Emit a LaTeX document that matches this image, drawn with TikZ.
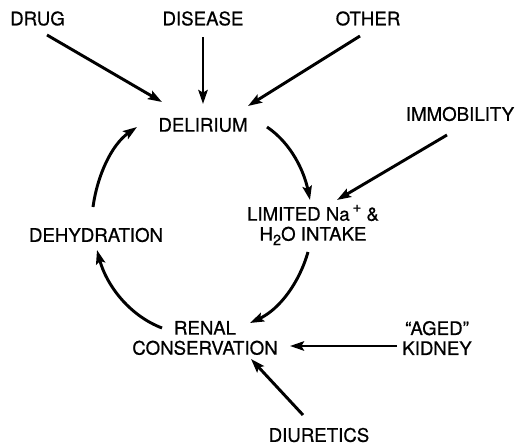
\documentclass[tikz,border=0pt]{standalone}
\usepackage{fontspec}
\setmainfont{TeX Gyre Heros}[Ligatures=TeX]
\newfontfamily\heavyfont{TeX Gyre Heros}[FakeBold=0.6,Ligatures=TeX]
\usetikzlibrary{arrows.meta}
\begin{document}
\begin{tikzpicture}[x=0.75pt,y=-0.75pt,
  label/.style={inner sep=0pt,align=center,font=\heavyfont\fontsize{14}{15}\selectfont},
  link/.style={line width=2.2pt,-{Stealth[length=10.5pt,width=7pt,inset=2pt]}}]
\useasboundingbox (0,0) rectangle (519,446);
% factors and states
\node[label] (drug) at (37.5,18.5) {DRUG};
\node[label] (disease) at (203,18.5) {DISEASE};
\node[label] (other) at (368,18.5) {OTHER};
\node[label] (delirium) at (203,125) {DELIRIUM};
\node[label] (immob) at (460,114) {IMMOBILITY};
\node[label] (limited) at (313,225) {LIMITED Na\,\raisebox{0.9ex}{\fontsize{11}{11}\selectfont +} \&\\H\raisebox{-0.45ex}{\fontsize{11}{11}\selectfont 2}O INTAKE};
\node[label] (dehyd) at (96,235) {DEHYDRATION};
\node[label] (renal) at (205,338) {RENAL\\CONSERVATION};
\node[label] (aged) at (437,338) {“AGED”\\KIDNEY};
\node[label] (diur) at (319,435) {DIURETICS};
% straight inputs
\draw[link] ([shift={(9.5,16.5)}]drug.center) -- ([shift={(-41,-23)}]delirium.center);
\draw[link] ([shift={(0,18.5)}]disease.center) -- ([shift={(0,-21)}]delirium.center);
\draw[link] ([shift={(-8,17.5)}]other.center) -- ([shift={(45,-19)}]delirium.center);
\draw[link] ([shift={(-13,21)}]immob.center) -- ([shift={(24,-25)}]limited.center);
\draw[link] ([shift={(-40,8)}]aged.center) -- ([shift={(85,8)}]renal.center);
\draw[link] ([shift={(-16,-20)}]diur.center) -- ([shift={(46,21)}]renal.center);
% the cycle, drawn as circular arcs around (203,222)
\draw[link] ([shift={(64,2)}]delirium.center) .. controls (291.3,143.4) and (304.1,171.3) .. ([shift={(-3,-25)}]limited.center);
\draw[link] ([shift={(-5,27)}]limited.center) .. controls (299.1,283.1) and (279.4,309.3) .. ([shift={(45,-15)}]renal.center);
\draw[link] ([shift={(-43,-10)}]renal.center) .. controls (128.6,315.2) and (106.3,284.6) .. ([shift={(1,15)}]dehyd.center);
\draw[link] ([shift={(-3,-28)}]dehyd.center) .. controls (97.2,176) and (111.3,144.9) .. ([shift={(-66,2)}]delirium.center);
\end{tikzpicture}
\end{document}
